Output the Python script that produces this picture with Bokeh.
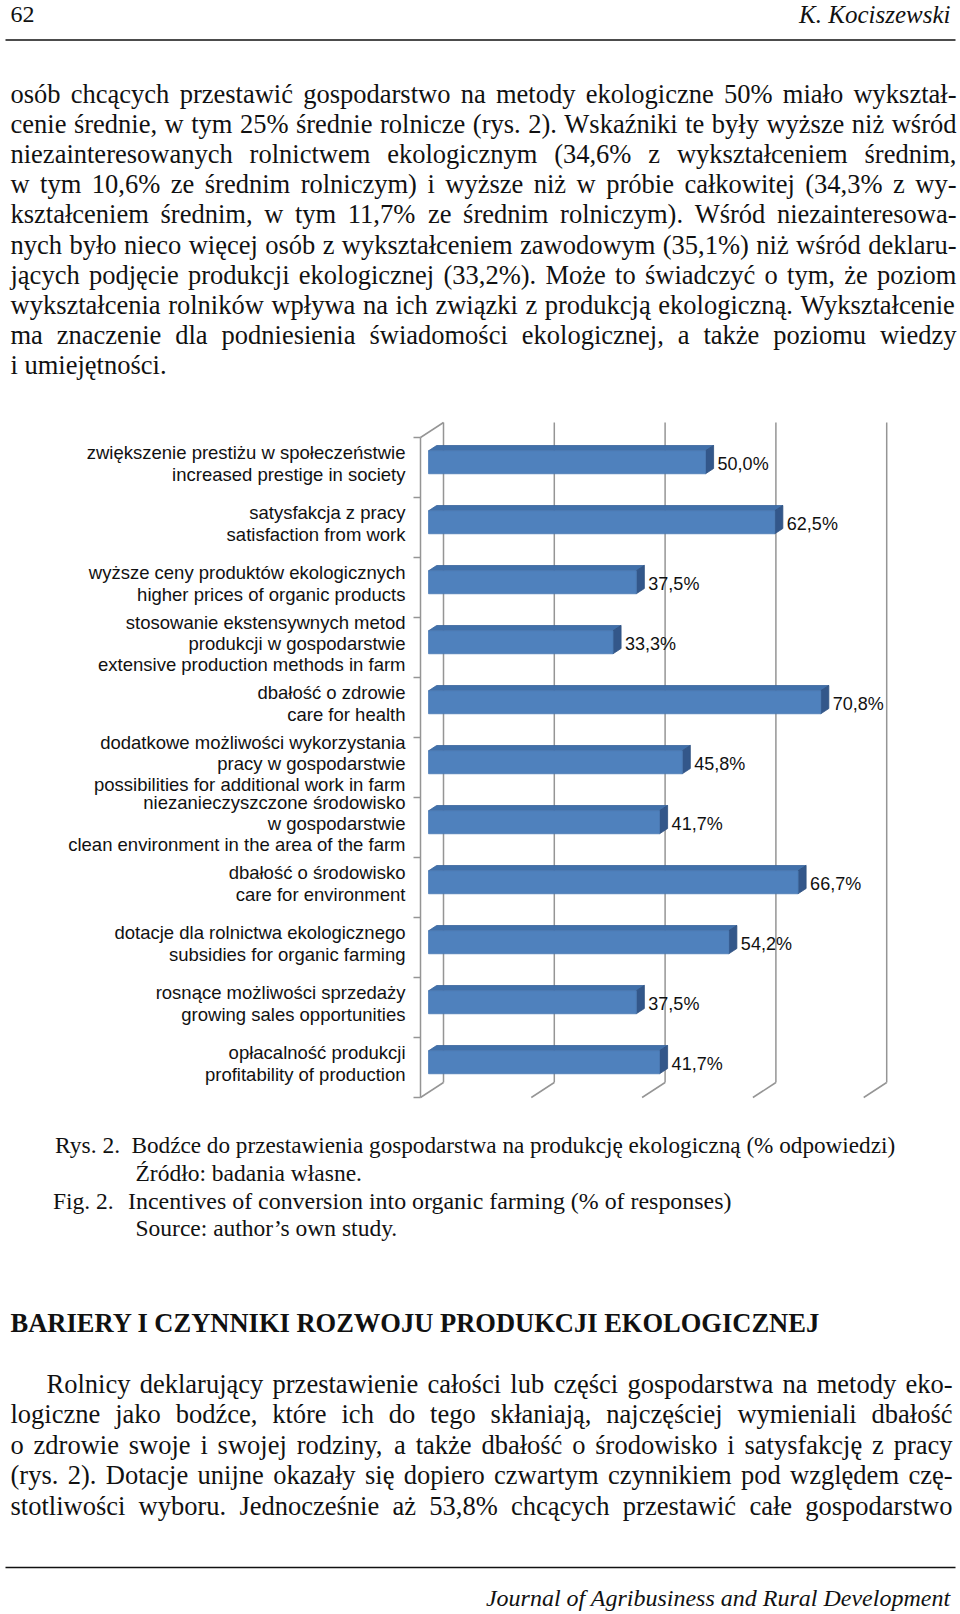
import unicodedata
from bokeh.plotting import figure
from bokeh.models import Range1d, ColumnDataSource
from bokeh.core.properties import value
from bokeh.embed import file_html
from bokeh.resources import INLINE

# ---------------- chart data ----------------
categories = [
    "zwiększenie prestiżu w społeczeństwie\nincreased prestige in society",
    "satysfakcja z pracy\nsatisfaction from work",
    "wyższe ceny produktów ekologicznych\nhigher prices of organic products",
    "stosowanie ekstensywnych metod\nprodukcji w gospodarstwie\nextensive production methods in farm",
    "dbałość o zdrowie\ncare for health",
    "dodatkowe możliwości wykorzystania\npracy w gospodarstwie\npossibilities for additional work in farm",
    "niezanieczyszczone środowisko\nw gospodarstwie\nclean environment in the area of the farm",
    "dbałość o środowisko\ncare for environment",
    "dotacje dla rolnictwa ekologicznego\nsubsidies for organic farming",
    "rosnące możliwości sprzedaży\ngrowing sales opportunities",
    "opłacalność produkcji\nprofitability of production",
]
values = [50.0, 62.5, 37.5, 33.3, 70.8, 45.8, 41.7, 66.7, 54.2, 37.5, 41.7]
grid_values = [0, 20, 40, 60, 80]

# ---------------- page text ----------------
header_left = "62"
header_right = "K. Kociszewski"
para1 = [
    "osób chcących przestawić gospodarstwo na metody ekologiczne 50% miało wykształ-",
    "cenie średnie, w tym 25% średnie rolnicze (rys. 2). Wskaźniki te były wyższe niż wśród",
    "niezainteresowanych rolnictwem ekologicznym (34,6% z wykształceniem średnim,",
    "w tym 10,6% ze średnim rolniczym) i wyższe niż w próbie całkowitej (34,3% z wy-",
    "kształceniem średnim, w tym 11,7% ze średnim rolniczym). Wśród niezainteresowa-",
    "nych było nieco więcej osób z wykształceniem zawodowym (35,1%) niż wśród deklaru-",
    "jących podjęcie produkcji ekologicznej (33,2%). Może to świadczyć o tym, że poziom",
    "wykształcenia rolników wpływa na ich związki z produkcją ekologiczną. Wykształcenie",
    "ma znaczenie dla podniesienia świadomości ekologicznej, a także poziomu wiedzy",
    "i umiejętności.",
]
caption_labels = ["Rys. 2.", "", "Fig. 2.", ""]
caption_texts = [
    "Bodźce do przestawienia gospodarstwa na produkcję ekologiczną (% odpowiedzi)",
    "Źródło: badania własne.",
    "Incentives of conversion into organic farming (% of responses)",
    "Source: author’s own study.",
]
heading = "BARIERY I CZYNNIKI ROZWOJU PRODUKCJI EKOLOGICZNEJ"
para2 = [
    "Rolnicy deklarujący przestawienie całości lub części gospodarstwa na metody eko-",
    "logiczne jako bodźce, które ich do tego skłaniają, najczęściej wymieniali dbałość",
    "o zdrowie swoje i swojej rodziny, a także dbałość o środowisko i satysfakcję z pracy",
    "(rys. 2). Dotacje unijne okazały się dopiero czwartym czynnikiem pod względem czę-",
    "stotliwości wyboru. Jednocześnie aż 53,8% chcących przestawić całe gospodarstwo",
]
footer = "Journal of Agribusiness and Rural Development"

# ---------------- font metrics (Times / Liberation Serif) ----------------
TNR = dict(zip("abcdefghijklmnopqrstuvwxyz",
               [444, 500, 444, 500, 444, 333, 500, 500, 278, 278, 500, 278, 778,
                500, 500, 500, 500, 333, 389, 278, 500, 500, 722, 500, 500, 444]))
TNR.update(dict(zip("ABCDEFGHIJKLMNOPQRSTUVWXYZ",
                    [722, 667, 667, 722, 611, 556, 722, 722, 333, 389, 722, 611, 889,
                     722, 722, 556, 722, 667, 556, 611, 722, 722, 944, 722, 722, 611])))
TNR.update({d: 500 for d in "0123456789"})
TNR.update({" ": 250, "%": 833, "(": 333, ")": 333, ",": 250, ".": 250, "-": 333,
            ":": 278, ";": 278, "’": 333, "'": 180})


def char_w(c):
    if c in TNR:
        return TNR[c]
    special = {"ł": "l", "Ł": "L"}
    if c in special:
        return TNR[special[c]]
    return TNR.get(unicodedata.normalize("NFD", c)[0], 500)


def word_w(w, size):
    return sum(char_w(c) for c in w) / 1000.0 * size


def layout_line(line, x_left, x_right, y, size, justify, out):
    words = line.split(" ")
    widths = [word_w(w, size) for w in words]
    if justify and len(words) > 1:
        gap = (x_right - x_left - sum(widths)) / (len(words) - 1)
    else:
        gap = 0.25 * size
    x = x_left
    for w, ww in zip(words, widths):
        out["x"].append(x)
        out["y"].append(y)
        out["text"].append(w)
        x += ww + gap


# ---------------- figure (page pixel coordinates) ----------------
W, H = 960, 1614
p = figure(width=W, height=H, output_backend="svg", toolbar_location=None,
           x_range=Range1d(0, W), y_range=Range1d(H, 0),
           min_border=0, x_axis_location=None, y_axis_location=None)
p.xgrid.visible = False
p.ygrid.visible = False
p.outline_line_color = None
p.background_fill_color = "white"
p.border_fill_color = "white"

SERIF = value("Liberation Serif")
SANS = value("Liberation Sans")
INK = "#111111"
TY = -8   # empirical baseline correction for serif text

# header / footer rules
p.multi_line(xs=[[5, 955], [5, 955]], ys=[[39.5, 39.5], [1567, 1567]],
             line_color="#111111", line_width=1.6)
p.text(x=[10], y=[24 + TY - 2], text=[header_left], text_font=SERIF, text_font_size="24px",
       text_color=INK, text_baseline="alphabetic", text_align="left")
p.text(x=[950], y=[24 + TY - 2], text=[header_right], text_font=SERIF, text_font_size="25px",
       text_font_style="italic", text_color=INK, text_baseline="alphabetic", text_align="right")
p.text(x=[950], y=[1605 + TY], text=[footer], text_font=SERIF, text_font_size="24px",
       text_font_style="italic", text_color=INK, text_baseline="alphabetic", text_align="right")

# body paragraphs
BODY = 26.5
words = {"x": [], "y": [], "text": []}
for i, line in enumerate(para1):
    layout_line(line, 10, 956, 101.5 + TY + 30.1 * i, BODY, i < len(para1) - 1, words)
for i, line in enumerate(para2):
    layout_line(line, 46 if i == 0 else 10, 952, 1391 + TY + 30.5 * i, BODY, True, words)
p.text(x="x", y="y", text="text", source=ColumnDataSource(words), text_font=SERIF,
       text_font_size=f"{BODY}px", text_color=INK, text_baseline="alphabetic", text_align="left")

# heading
p.text(x=[10], y=[1330 + TY], text=[heading], text_font=SERIF, text_font_size="26.5px",
       text_font_style="bold", text_color=INK, text_baseline="alphabetic", text_align="left")

# caption
cap_y = [1152 + TY, 1180 + TY, 1208 + TY, 1235.5 + TY]
cap_lab_x = [54.5, 0, 52.5, 0]
cap_txt_x = [131, 135, 127.6, 135]
cap_size = ["23.2px", "23.5px", "23.9px", "23.5px"]
lab_src = {"x": [], "y": [], "text": []}
for lab, lx, yy in zip(caption_labels, cap_lab_x, cap_y):
    if lab:
        lab_src["x"].append(lx)
        lab_src["y"].append(yy)
        lab_src["text"].append(lab)
p.text(x="x", y="y", text="text", source=ColumnDataSource(lab_src), text_font=SERIF,
       text_font_size="23.5px", text_color=INK, text_baseline="alphabetic", text_align="left")
cap_src = ColumnDataSource(dict(x=cap_txt_x, y=cap_y, text=caption_texts, size=cap_size))
p.text(x="x", y="y", text="text", source=cap_src, text_font=SERIF,
       text_font_size="size", text_color=INK, text_baseline="alphabetic", text_align="left")

# ---------------- chart (own scales) ----------------
S = 5.54      # px per percent
X0 = 420      # page x of 0% on the front plane
B = 60        # px per category band
Y0 = 467      # page y of first category centre
p.extra_x_ranges = {"pct": Range1d(start=(0 - X0) / S, end=(W - X0) / S)}
p.extra_y_ranges = {"cat": Range1d(start=(H - Y0) / B, end=(0 - Y0) / B)}
R = dict(x_range_name="pct", y_range_name="cat")

n = len(values)
idx = list(range(n))
dxu = 23 / S      # wall depth in percent units
dyu = 15 / B      # wall depth in category units
f1, f2 = 0.35, 0.70
BH = 23 / B
GRID = "#959595"

xs, ys = [], []
for g in grid_values:
    xs.append([g + dxu, g + dxu]); ys.append([-0.5 - dyu, n - 0.5 - dyu])
    xs.append([g, g + dxu]); ys.append([n - 0.5, n - 0.5 - dyu])
xs.append([0, 0]); ys.append([-0.5, n - 0.5])
xs.append([0, dxu]); ys.append([-0.5, -0.5 - dyu])
for k in range(n + 1):
    xs.append([-7 / S, 0]); ys.append([k - 0.5, k - 0.5])
p.multi_line(xs=xs, ys=ys, line_color=GRID, line_width=1.5, **R)

yc = [i - f1 * dyu for i in idx]
tx, ty, sx, sy = [], [], [], []
for v, y in zip(values, yc):
    top, bot = y - BH / 2, y + BH / 2
    d = (f2 - f1) * dyu
    tx.append([f1 * dxu, v + f1 * dxu, v + f2 * dxu, f2 * dxu])
    ty.append([top, top, top - d, top - d])
    sx.append([v + f1 * dxu, v + f2 * dxu, v + f2 * dxu, v + f1 * dxu])
    sy.append([top, top - d, bot - d, bot])
p.patches(xs=tx, ys=ty, fill_color="#4170aa", line_color="#3a659d", line_width=0.8, **R)
p.patches(xs=sx, ys=sy, fill_color="#33578a", line_color="#2e5080", line_width=0.8, **R)
p.hbar(y=yc, left=[f1 * dxu] * n, right=[v + f1 * dxu for v in values], height=BH,
       fill_color="#4f81bd", line_color="#4a7ab4", line_width=0.8, **R)

# value labels
val_text = [f"{v:.1f}".replace(".", ",") + "%" for v in values]
p.text(x=[v + f2 * dxu for v in values], y=idx, text=val_text, x_offset=4, y_offset=-4,
       text_font=SANS, text_font_size="18px", text_color=INK,
       text_baseline="middle", text_align="left", **R)

# category labels
p.text(x=[405] * n, y=idx, text=categories, y_offset=-4, text_font=SANS,
       text_font_size="18.5px", text_line_height=1.02, text_color=INK,
       text_baseline="middle", text_align="right", y_range_name="cat")

open("out.html", "w").write(file_html(p, INLINE))
